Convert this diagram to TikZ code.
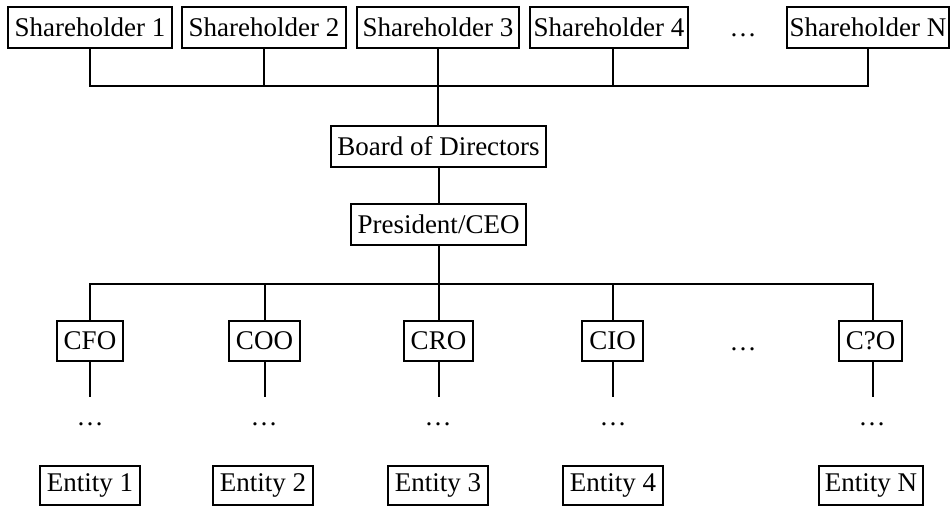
\documentclass[tikz,border=0pt]{standalone}
\usepackage{fontspec}
\setmainfont{Liberation Serif}
\begin{document}
\begin{tikzpicture}[x=1pt,y=-1pt,
  box/.style={draw,line width=2pt,inner sep=0pt,minimum height=41pt,font=\fontsize{27}{30}\selectfont},
  dotsnode/.style={inner sep=0pt,anchor=base,font=\fontsize{27}{30}\selectfont},
  conn/.style={line width=2pt}]
\useasboundingbox (0,0) rectangle (951,506);
% shareholders
\node[box,minimum width=164pt] (sh1) at (90,27.5) {Shareholder 1};
\node[box,minimum width=164pt] (sh2) at (264,27.5) {Shareholder 2};
\node[box,minimum width=162pt] (sh3) at (438,27.5) {Shareholder 3};
\node[box,minimum width=158pt] (sh4) at (609,27.5) {Shareholder 4};
\node[dotsnode] (shd) at (743,36) {\dots};
\node[box,minimum width=162pt] (shN) at (868,27.5) {Shareholder N};
% board and CEO
\node[box,minimum width=215pt] (bd) at (438.5,146.5) {Board of Directors};
\node[box,minimum width=175pt] (ceo) at (438.5,224.5) {President/CEO};
% executives
\node[box,minimum width=66pt,minimum height=40pt] (cfo) at (90,341) {CFO};
\node[box,minimum width=71pt,minimum height=40pt] (coo) at (264.5,341) {COO};
\node[box,minimum width=69pt,minimum height=40pt] (cro) at (438.5,341) {CRO};
\node[box,minimum width=61pt,minimum height=40pt] (cio) at (612.5,341) {CIO};
\node[dotsnode] (exd) at (743,350) {\dots};
\node[box,minimum width=63pt,minimum height=40pt] (cxo) at (870.5,341) {C?O};
% dots under executives
\node[dotsnode] (d1) at (90,425) {\dots};
\node[dotsnode] (d2) at (264,425) {\dots};
\node[dotsnode] (d3) at (438,425) {\dots};
\node[dotsnode] (d4) at (613,425) {\dots};
\node[dotsnode] (d5) at (872,425) {\dots};
% entities
\node[box,minimum width=100pt,minimum height=39pt] (e1) at (90,485.5) {Entity 1};
\node[box,minimum width=100pt,minimum height=39pt] (e2) at (263,485.5) {Entity 2};
\node[box,minimum width=100pt,minimum height=39pt] (e3) at (438,485.5) {Entity 3};
\node[box,minimum width=100pt,minimum height=39pt] (e4) at (613,485.5) {Entity 4};
\node[box,minimum width=104pt,minimum height=39pt] (eN) at (871,485.5) {Entity N};
% bus coordinates
\coordinate (tb) at (438,86);
\coordinate (lb) at (438,284);
\coordinate (c1) at (90,397);
\coordinate (c2) at (264.5,397);
\coordinate (c3) at (438.5,397);
\coordinate (c4) at (612.5,397);
\coordinate (c5) at (873,397);
% top connectors
\draw[conn] (sh1.south) -- (sh1.south |- tb) -- (shN.south |- tb) -- (shN.south);
\draw[conn] (sh2.south) -- (sh2.south |- tb);
\draw[conn] (sh3.south) -- (sh3.south |- tb);
\draw[conn] ([xshift=4pt]sh4.south) -- ([xshift=4pt]sh4.south |- tb);
\draw[conn] (tb) -- (tb |- bd.north);
\draw[conn] (bd.south) -- (ceo.north);
% lower bus
\draw[conn] (ceo.south) -- (ceo.south |- lb);
\draw[conn] (cfo.north) -- (cfo.north |- lb) -- ([xshift=2.5pt]cxo.north |- lb) -- ([xshift=2.5pt]cxo.north);
\draw[conn] (coo.north) -- (coo.north |- lb);
\draw[conn] (cro.north) -- (cro.north |- lb);
\draw[conn] (cio.north) -- (cio.north |- lb);
% below executives
\draw[conn] (cfo.south) -- (c1);
\draw[conn] (coo.south) -- (c2);
\draw[conn] (cro.south) -- (c3);
\draw[conn] (cio.south) -- (c4);
\draw[conn] (c5 |- cxo.south) -- (c5);
\end{tikzpicture}
\end{document}
